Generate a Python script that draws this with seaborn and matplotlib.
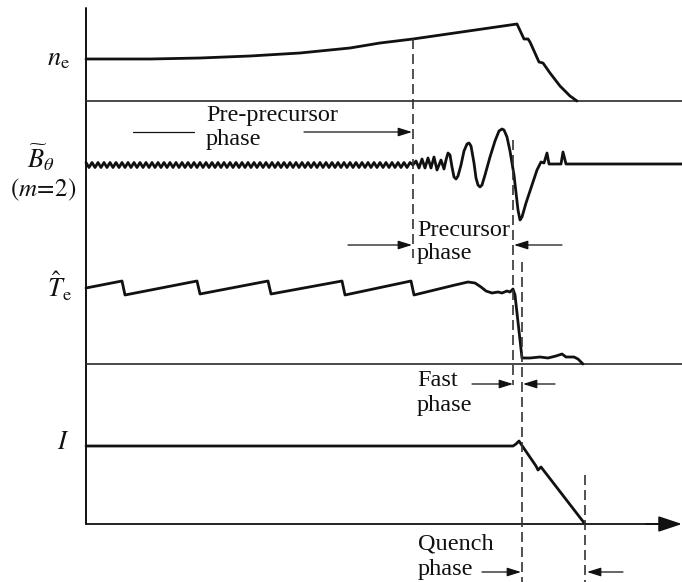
import numpy as np
import pandas as pd
import matplotlib
matplotlib.use("Agg")
import matplotlib.pyplot as plt
import seaborn as sns

# ---- signal traces (time in arbitrary units, amplitude above each trace's baseline) ----
# electron density
ne_t = [0, 64, 114, 164, 214, 264, 294, 327, 431, 438, 442, 444, 453, 457, 464, 474, 484, 491]
ne_v = [42, 42, 43, 45, 48, 53, 58, 62, 77, 62, 62, 59, 39, 38, 28, 15, 5, 0]

# m=2 magnetic fluctuation: small steady ripple, then growing precursor oscillation
ripple_end = 327
ripple_step = 3
ripple_cycle = [2.5, -2.5]
bt_t = [327, 330, 333, 336, 339, 342, 345, 348, 351, 355, 358, 360,
        362, 364, 366, 368, 370, 372, 375, 378, 381, 383, 385, 388,
        390, 392, 394, 396, 399, 404, 409, 413, 416, 418, 421, 424,
        428, 432, 434, 436, 440, 446, 451, 455, 458, 461, 463, 475,
        477, 480, 596]
bt_v = [0, 4, -3, 6, -3, 7, -3, 8, -5, 5, -4, 5,
        12, 10, -2, -12, -14, -11, 0, 14, 21, 22, 19, 2,
        -13, -20, -22, -20, -10, 8, 24, 34, 36, 35, 28, 14,
        -10, -45, -55, -52, -38, -20, -5, 3, 2, 12, 1, 1,
        13, 1, 1]

# central electron temperature: sawteeth, thermal quench, residual
te_t = [0, 36, 39, 111, 114, 182, 185, 256, 259, 325, 328, 369, 382, 389, 395, 400,
        406, 412, 416, 421, 424, 427, 429, 436, 444, 454, 462, 470, 476, 480, 488, 492, 497]
te_v = [76, 83, 69, 83, 70, 83, 70, 83, 69, 83, 69, 79, 82, 81, 77, 73, 71, 72, 71,
        73, 72, 75, 69, 6, 6, 7, 6, 8, 10, 7, 7, 5, 0]

# plasma current: flat-top, small spike, current quench
ip_t = [0, 427, 430, 433, 437, 450, 452, 455, 499]
ip_v = [78, 78, 80, 83, 77, 58, 54, 57, 0]

# phase boundaries
t_precursor = 327
t_fast = 427
t_quench = 436
t_end = 499

# trace labels
labels = [r"$n_\mathrm{e}$", r"$\widetilde{B}_\theta$", r"$(m\!=\!2)$",
          r"$\hat{T}_\mathrm{e}$", r"$I$"]
phase_names = [("Pre-precursor", "phase"), ("Precursor", "phase"),
               ("Fast", "phase"), ("Quench", "phase")]

# ---- styling ----
sns.set_theme(style="white")
plt.rcParams["font.family"] = ["Liberation Serif", "DejaVu Serif"]
plt.rcParams["mathtext.fontset"] = "stix"

INK = "#111111"
fig = plt.figure(figsize=(6.82, 5.82), dpi=100)
ax = fig.add_axes([0, 0, 1, 1])
ax.set_xlim(-86, 596)
ax.set_ylim(0, 582)
ax.axis("off")

# vertical baselines for each trace
base_ne, base_bt, base_te, base_ip = 481, 417, 218, 58


def trace(t, v, base, lw=2.0):
    df = pd.DataFrame({"t": t, "y": np.asarray(v, float) + base})
    sns.lineplot(data=df, x="t", y="y", ax=ax, color=INK, lw=lw,
                 sort=False, estimator=None, legend=False)


# axes frame: vertical axis, zero lines, time axis with arrow
ax.plot([0, 0], [base_ip, 574], color=INK, lw=1.4)
ax.plot([0, 596], [base_ne, base_ne], color="#2a2a2a", lw=1.2)
ax.plot([0, 596], [base_te, base_te], color="#2a2a2a", lw=1.2)
ax.plot([0, 580], [base_ip, base_ip], color=INK, lw=1.3)
ax.annotate("", xy=(596, base_ip), xytext=(560, base_ip),
            arrowprops=dict(arrowstyle="-|>,head_length=1.2,head_width=0.4",
                            mutation_scale=12, color=INK, lw=1.3,
                            shrinkA=0, shrinkB=0))

# traces
trace(ne_t, ne_v, base_ne)
rip_t = np.arange(0, ripple_end, ripple_step)
rip_v = np.resize(ripple_cycle, len(rip_t))
trace(list(rip_t) + bt_t, list(rip_v) + bt_v, base_bt, lw=2.0)
trace(te_t, te_v, base_te)
trace(ip_t, ip_v, base_ip)

# dashed phase boundaries
dash = dict(color="#333333", lw=1.2, ls=(0, (6, 3)))
ax.plot([t_precursor, t_precursor], [543, 324], **dash)
ax.plot([t_fast, t_fast], [442, 197], **dash)
ax.plot([t_quench, t_quench], [320, 0], **dash)
ax.plot([t_end, t_end], [107, 0], **dash)


def arrow(tail, tip, y):
    ax.annotate("", xy=(tip, y), xytext=(tail, y),
                arrowprops=dict(arrowstyle="-|>,head_length=0.7,head_width=0.22",
                                mutation_scale=12, color=INK, lw=0.9,
                                shrinkA=0, shrinkB=0))


# phase markers
ax.plot([47, 108], [450, 450], color=INK, lw=0.9)
arrow(218, t_precursor - 1, 450)
arrow(262, t_precursor - 1, 337)
arrow(476, t_fast + 1, 337)
arrow(386, t_fast, 198)
arrow(469, t_quench + 1, 198)
arrow(396, t_quench - 1, 10)
arrow(537, t_end + 2, 10)

fs = 17.5
text_pos = [(120, 467, 442), (331, 352, 329), (331, 201, 176), (332, 38, 13)]
for (head, tail), (x, y1, y2) in zip(phase_names, text_pos):
    ax.text(x, y1, head, fontsize=fs, color=INK, ha="left", va="center")
    ax.text(x, y2, tail, fontsize=fs, color=INK, ha="left", va="center")

# trace labels
ax.text(-16, 522, labels[0], fontsize=19, color=INK, ha="right", va="center")
ax.text(-31, 424, labels[1], fontsize=19, color=INK, ha="right", va="center")
ax.text(-43, 392, labels[2], fontsize=18, color=INK, ha="center", va="center")
ax.text(-14, 296, labels[3], fontsize=19, color=INK, ha="right", va="center")
ax.text(-23, 139, labels[4], fontsize=19, color=INK, ha="center", va="center")

fig.savefig("out.png", dpi=100, facecolor="white")
